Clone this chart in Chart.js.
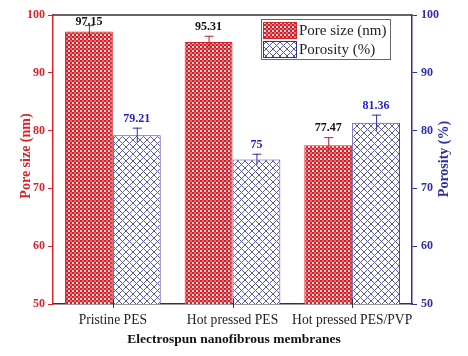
<!DOCTYPE html>
<html><head><meta charset="utf-8">
<script src="https://cdn.jsdelivr.net/npm/chart.js@4.4.0/dist/chart.umd.min.js"></script>
<style>html,body{margin:0;padding:0;background:#fff;}#wrap{width:468px;height:356px;position:relative;}</style>
</head><body><div id="wrap"><canvas id="c" width="468" height="356"></canvas></div>
<script>
const categories = ['Pristine PES', 'Hot pressed PES', 'Hot pressed PES/PVP'];
const poreSize = [97.15, 95.31, 77.47];
const poreErr = [1.1, 1.1, 1.4];
const porosity = [79.21, 75, 81.36];
const porosityErr = [1.3, 1.0, 1.4];
const poreLabels = ['97.15', '95.31', '77.47'];
const porosityLabels = ['79.21', '75', '81.36'];
const yTicks = [50, 60, 70, 80, 90, 100];

const RED = '#d8242c', BLUE = '#2e2ea6';
const FONT = "'Liberation Serif', 'DejaVu Serif', serif";

function checker() {
  const c = document.createElement('canvas'); c.width = 4; c.height = 4;
  const x = c.getContext('2d');
  x.fillStyle = '#f7d4d4'; x.fillRect(0,0,4,4);
  x.fillStyle = '#d41e28'; x.fillRect(0,0,2,2); x.fillRect(2,2,2,2);
  x.fillStyle = '#e66a70'; x.fillRect(2,0,2,2);
  return x.createPattern(c, 'repeat');
}
function hatch() {
  const c = document.createElement('canvas'); c.width = 7; c.height = 7;
  const x = c.getContext('2d');
  x.fillStyle = '#ffffff'; x.fillRect(0,0,7,7);
  x.strokeStyle = '#5a5aaa'; x.lineWidth = 1;
  x.beginPath(); x.moveTo(-1,-1); x.lineTo(8,8); x.moveTo(8,-1); x.lineTo(-1,8); x.stroke();
  return x.createPattern(c, 'repeat');
}
const poreFill = checker(), porFill = hatch();

const extras = {
  id: 'extras',
  afterDatasetsDraw(chart) {
    const ctx = chart.ctx, ca = chart.chartArea;
    const sets = [
      {meta: chart.getDatasetMeta(0), vals: poreSize, err: poreErr, labels: poreLabels, scale: chart.scales.y, col: '#b81c24', tcol: '#111'},
      {meta: chart.getDatasetMeta(1), vals: porosity, err: porosityErr, labels: porosityLabels, scale: chart.scales.y1, col: BLUE, tcol: '#1f1fd0'}
    ];
    ctx.save();
    sets.forEach(s => {
      s.meta.data.forEach((bar, i) => {
        const top = s.scale.getPixelForValue(s.vals[i] + s.err[i]);
        const bot = s.scale.getPixelForValue(s.vals[i] - s.err[i]);
        ctx.strokeStyle = s.col; ctx.lineWidth = 1;
        ctx.beginPath();
        ctx.moveTo(bar.x + 0.5, bot); ctx.lineTo(bar.x + 0.5, top);
        ctx.moveTo(bar.x - 4, top + 0.5); ctx.lineTo(bar.x + 5, top + 0.5);
        ctx.stroke();
        ctx.fillStyle = s.tcol; ctx.font = 'bold 12px ' + FONT;
        ctx.textAlign = 'center'; ctx.textBaseline = 'bottom';
        ctx.fillText(s.labels[i], bar.x, Math.max(top - 3, ca.top + 13));
      });
    });
    // top frame line
    ctx.strokeStyle = '#333'; ctx.lineWidth = 1.5;
    ctx.beginPath(); ctx.moveTo(ca.left, ca.top); ctx.lineTo(ca.right, ca.top); ctx.stroke();
    // x ticks at category centers
    ctx.lineWidth = 1; ctx.strokeStyle = '#333';
    const xs = chart.scales.x;
    categories.forEach((c, i) => {
      const px = Math.round(xs.getPixelForValue(i)) + 0.5;
      ctx.beginPath(); ctx.moveTo(px, ca.bottom - 5); ctx.lineTo(px, ca.bottom + 4); ctx.stroke();
    });
    // legend
    const lx = 261, ly = 19, lw = 129, lh = 40;
    ctx.fillStyle = '#fff'; ctx.fillRect(lx, ly, lw, lh);
    ctx.strokeStyle = '#666'; ctx.lineWidth = 1; ctx.strokeRect(lx + 0.5, ly + 0.5, lw, lh);
    const entries = [[poreFill, RED, 'Pore size (nm)'], [porFill, BLUE, 'Porosity (%)']];
    entries.forEach((e, k) => {
      const sy = ly + 3 + k * 19;
      ctx.fillStyle = e[0]; ctx.fillRect(lx + 2, sy, 33, 16);
      ctx.strokeStyle = e[1]; ctx.strokeRect(lx + 2.5, sy + 0.5, 33, 16);
      ctx.fillStyle = '#222'; ctx.font = '15px ' + FONT;
      ctx.textAlign = 'left'; ctx.textBaseline = 'middle';
      ctx.fillText(e[2], lx + 38, sy + 9);
    });
    // axis titles
    ctx.font = 'bold 14px ' + FONT; ctx.textAlign = 'center'; ctx.textBaseline = 'middle';
    ctx.save(); ctx.translate(26, 156); ctx.rotate(-Math.PI / 2);
    ctx.fillStyle = RED; ctx.fillText('Pore size (nm)', 0, 0); ctx.restore();
    ctx.save(); ctx.translate(444, 159); ctx.rotate(-Math.PI / 2);
    ctx.fillStyle = BLUE; ctx.fillText('Porosity (%)', 0, 0); ctx.restore();
    ctx.fillStyle = '#111'; ctx.font = 'bold 13.5px ' + FONT;
    ctx.fillText('Electrospun nanofibrous membranes', 234, 340);
    ctx.restore();
  }
};

new Chart(document.getElementById('c'), {
  type: 'bar',
  data: {
    labels: categories,
    datasets: [
      {label: 'Pore size (nm)', data: poreSize, yAxisID: 'y', backgroundColor: poreFill, borderColor: RED, borderWidth: 1, categoryPercentage: 0.8, barPercentage: 1.0},
      {label: 'Porosity (%)', data: porosity, yAxisID: 'y1', backgroundColor: porFill, borderColor: '#4444aa', borderWidth: 1, categoryPercentage: 0.8, barPercentage: 1.0}
    ]
  },
  options: {
    responsive: false, animation: false, devicePixelRatio: 1,
    layout: {padding: {top: 15, left: 0, right: 0, bottom: 0}},
    plugins: {legend: {display: false}, tooltip: {enabled: false}},
    scales: {
      x: {
        afterFit(s) { s.height = 52; },
        grid: {display: true, drawOnChartArea: false, drawTicks: false},
        border: {color: '#333', width: 1.5},
        ticks: {color: '#222', font: {family: FONT, size: 13.6}, padding: 8, maxRotation: 0, minRotation: 0, autoSkip: false}
      },
      y: {
        position: 'left', min: 50, max: 100,
        afterFit(s) { s.width = 53; },
        afterBuildTicks(s) { s.ticks = yTicks.map(v => ({value: v})); },
        grid: {drawOnChartArea: false, drawTicks: true, tickLength: 5, color: RED},
        border: {color: RED, width: 1.5},
        ticks: {color: RED, font: {family: FONT, size: 12, weight: 'bold'}, padding: 3}
      },
      y1: {
        position: 'right', min: 50, max: 100,
        afterFit(s) { s.width = 56; },
        afterBuildTicks(s) { s.ticks = yTicks.map(v => ({value: v})); },
        grid: {drawOnChartArea: false, drawTicks: true, tickLength: 5, color: BLUE},
        border: {color: BLUE, width: 1.5},
        ticks: {color: BLUE, font: {family: FONT, size: 12, weight: 'bold'}, padding: 4}
      }
    }
  },
  plugins: [extras]
});
</script></body></html>
